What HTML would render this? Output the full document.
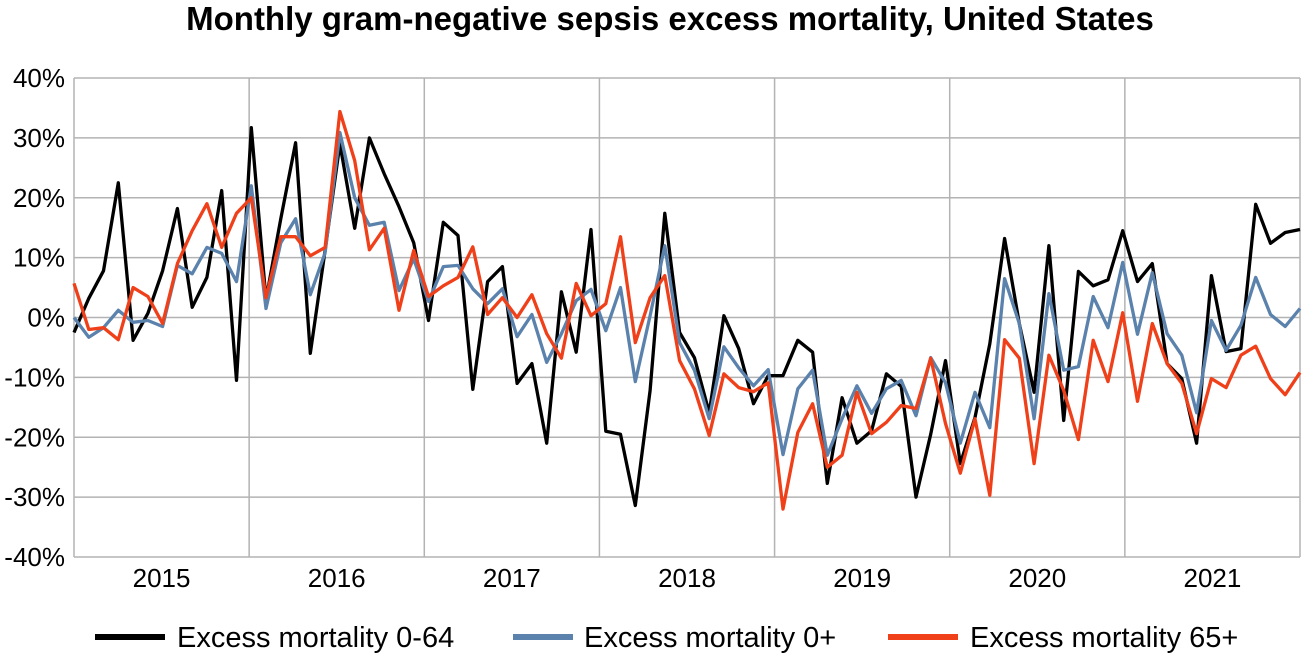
<!DOCTYPE html>
<html><head><meta charset="utf-8"><style>
body{margin:0;background:#fff;width:1308px;height:659px;overflow:hidden;font-family:"Liberation Sans",sans-serif}
svg text{font-family:"Liberation Sans",sans-serif}
</style></head><body>
<svg id="chart" width="1308" height="659" xmlns="http://www.w3.org/2000/svg">
<text x="670" y="30" text-anchor="middle" font-size="33" font-weight="bold">Monthly gram-negative sepsis excess mortality, United States</text>
<g id="grid"></g><g id="series"></g><g id="labels"></g>
<g id="legend">
<line x1="95" y1="637" x2="165" y2="637" stroke="#000" stroke-width="6"/>
<text x="177" y="647" font-size="29">Excess mortality 0-64</text>
<line x1="513" y1="637" x2="573" y2="637" stroke="#5b82ac" stroke-width="6"/>
<text x="584" y="647" font-size="29">Excess mortality 0+</text>
<line x1="888" y1="637" x2="958" y2="637" stroke="#f0401a" stroke-width="6"/>
<text x="970" y="647" font-size="29">Excess mortality 65+</text>
</g>
</svg>
<script>
const years=["2015","2016","2017","2018","2019","2020","2021"];
const yTicks=[40,30,20,10,0,-10,-20,-30,-40];
const age0to64=[-2.5,3.2,7.8,22.5,-3.8,0.7,7.8,18.2,1.7,6.7,21.2,-10.5,31.7,3,16.5,29.2,-6,11.2,29,14.9,30,24,18.5,12.5,-0.5,15.9,13.7,-12,6,8.5,-11,-7.7,-21,4.3,-5.8,14.7,-19,-19.5,-31.4,-12.2,17.4,-2.5,-6.7,-15.9,0.3,-5.2,-14.4,-9.7,-9.7,-3.8,-5.8,-27.7,-13.4,-21,-18.9,-9.4,-11.5,-30,-19.5,-7.2,-24.4,-16.7,-4.4,13.2,-1,-12.5,12,-17.2,7.7,5.3,6.3,14.5,6,9,-7.7,-10.2,-21,7,-5.7,-5.2,18.9,12.4,14.2,14.7];
const age0plus=[0,-3.3,-1.7,1.2,-0.8,-0.5,-1.5,8.7,7.3,11.7,10.7,6,22,1.5,12.5,16.5,3.8,10.8,30.9,20,15.4,15.9,4.5,9.8,2.7,8.5,8.7,4.8,2.3,4.8,-3.2,0.5,-7.5,-2.7,2.8,4.7,-2.2,5,-10.7,0.3,12,-4.2,-8.8,-16.9,-4.9,-8.4,-11.4,-8.7,-22.9,-11.9,-8.8,-23,-16.9,-11.4,-16,-11.9,-10.5,-16.4,-6.7,-10.9,-21,-12.5,-18.4,6.5,-1,-16.9,4,-8.8,-8.2,3.5,-1.7,9.2,-2.8,7.5,-2.7,-6.3,-15.9,-0.5,-5.5,-1.3,6.7,0.5,-1.5,1.5];
const age65plus=[5.7,-2,-1.7,-3.7,5,3.5,-1,9,14.5,19,11.7,17.4,20,3.3,13.5,13.5,10.3,11.7,34.4,26.2,11.3,14.9,1.2,11.2,3.5,5.3,6.7,11.8,0.5,3.3,0,3.8,-2.7,-6.8,5.7,0.3,2.3,13.5,-4.2,3.3,7,-7.2,-11.9,-19.7,-9.4,-11.7,-12.4,-10.9,-32,-19.2,-14.4,-25,-23,-12.5,-19.4,-17.5,-14.7,-15.2,-6.8,-17.7,-26,-16.9,-29.7,-3.7,-6.8,-24.4,-6.3,-12.2,-20.4,-3.8,-10.7,0.8,-14,-1,-7.7,-11,-19.4,-10.2,-11.7,-6.3,-4.8,-10.2,-12.9,-9.2];

const NS="http://www.w3.org/2000/svg";
const L=74,R=1300,T=78,B=557;
const yS=v=>T+(40-v)*(B-T)/80;
const xS=i=>L+i*(R-L)/(age0to64.length-1);
const yearW=(R-L)/years.length;
function mk(tag,attrs,parent){const e=document.createElementNS(NS,tag);for(const k in attrs)e.setAttribute(k,attrs[k]);document.getElementById(parent).appendChild(e);return e;}
yTicks.forEach(t=>{
  const g=mk('line',{x1:L,x2:R,y1:yS(t),y2:yS(t),stroke:'#b3b3b3','stroke-width':1.5},'grid');
  
  
  const tx=mk('text',{x:65,y:yS(t)+9,'text-anchor':'end','font-size':26},'labels');
  tx.textContent=t+'%';
  
  
});
for(let k=0;k<=years.length;k++){
  const x=L+k*yearW;
  const v=mk('line',{x1:x,x2:x,y1:T,y2:B,stroke:'#b3b3b3','stroke-width':1.5},'grid');
  
  
}
years.forEach((y,k)=>{
  const tx=mk('text',{x:L+(k+0.5)*yearW,y:587,'text-anchor':'middle','font-size':26},'labels');
  tx.textContent=y;
  
  
});
[[age0to64,'#000','series-0-64'],[age0plus,'#5b82ac','series-0plus'],[age65plus,'#f0401a','series-65plus']].forEach(([d,c,n])=>{
  const p=mk('polyline',{points:d.map((v,i)=>xS(i).toFixed(1)+','+yS(v).toFixed(1)).join(' '),fill:'none',stroke:c,'stroke-width':3.3,'stroke-linejoin':'round'},'series');
  
  
});
</script>
</body></html>
